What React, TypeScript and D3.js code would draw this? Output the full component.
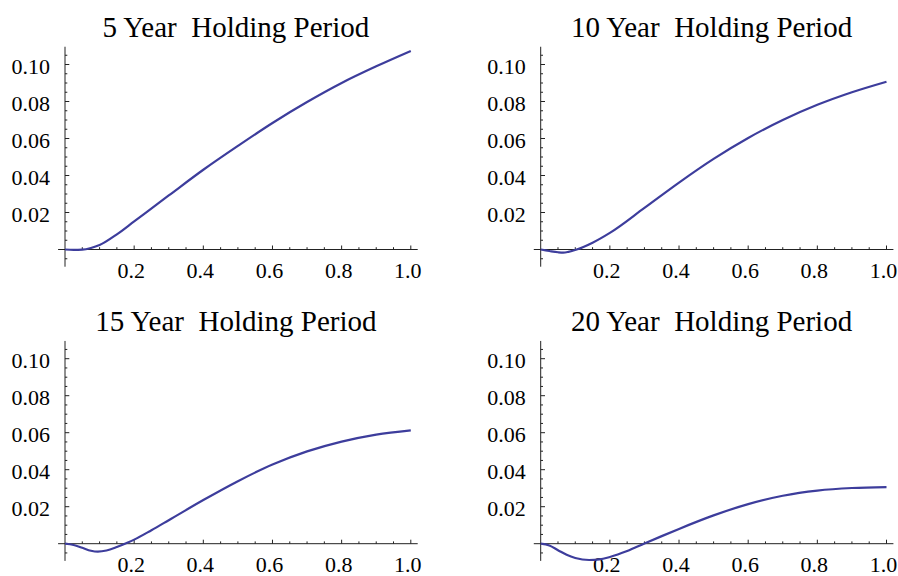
import * as d3 from "d3";

const titles = [
  "5 Year  Holding Period",
  "10 Year  Holding Period",
  "15 Year  Holding Period",
  "20 Year  Holding Period",
];

// [fraction, value]
const holding5: [number, number][] = [
  [0, 0], [0.025, -0.0002], [0.05, -0.0001], [0.075, 0.0008], [0.1, 0.0024],
  [0.15, 0.0082], [0.2, 0.0152], [0.3, 0.0292], [0.4, 0.0431], [0.5, 0.0560],
  [0.6, 0.0684], [0.7, 0.0797], [0.8, 0.0900], [0.9, 0.0990], [1.0, 0.1073],
];
const holding10: [number, number][] = [
  [0, 0], [0.025, -0.0008], [0.05, -0.0015], [0.065, -0.0017], [0.08, -0.0013],
  [0.104, 0], [0.15, 0.0037], [0.2, 0.0090], [0.3, 0.0225], [0.4, 0.0362],
  [0.5, 0.0490], [0.6, 0.0603], [0.7, 0.0700], [0.8, 0.0782], [0.9, 0.0850], [1.0, 0.0907],
];
const holding15: [number, number][] = [
  [0, 0], [0.025, -0.0007], [0.05, -0.0022], [0.075, -0.0038], [0.095, -0.0043],
  [0.12, -0.0037], [0.15, -0.0018], [0.18, 0.0005], [0.2, 0.0022], [0.25, 0.0073],
  [0.3, 0.0127], [0.4, 0.0236], [0.5, 0.0338], [0.6, 0.0428], [0.7, 0.0499],
  [0.8, 0.0552], [0.9, 0.0590], [1.0, 0.0613],
];
const holding20: [number, number][] = [
  [0, 0], [0.025, -0.0010], [0.05, -0.0035], [0.075, -0.0060], [0.1, -0.0077],
  [0.14, -0.0088], [0.17, -0.0085], [0.2, -0.0072], [0.25, -0.0040], [0.3, 0.0001],
  [0.35, 0.0041], [0.4, 0.0080], [0.5, 0.0153], [0.6, 0.0214], [0.7, 0.0259],
  [0.8, 0.0287], [0.9, 0.0301], [1.0, 0.0306],
];

const series = [holding5, holding10, holding15, holding20];

const xTickValues = [0.2, 0.4, 0.6, 0.8, 1.0];
const yTickValues = [0.02, 0.04, 0.06, 0.08, 0.1];

const WIDTH = 898;
const HEIGHT = 576;
const colLeft = [65, 540.7];
const rowZero = [249.5, 543.7];
const plotW = 345.8;
const yPerUnit = 1850;

const lineColor = "#3d3d9c";
const axisColor = "#222";
const font = "'Liberation Serif', 'Times New Roman', serif";

function Panel({ index }: { index: number }) {
  const left = colLeft[index % 2];
  const zero = rowZero[Math.floor(index / 2)];
  const x = d3.scaleLinear().domain([0, 1]).range([left, left + plotW]);
  const y = d3.scaleLinear().domain([0, 0.1]).range([zero, zero - 0.1 * yPerUnit]);

  const line = d3
    .line<[number, number]>()
    .x((d) => x(d[0]))
    .y((d) => y(d[1]))
    .curve(d3.curveMonotoneX);

  const xMinor = d3
    .range(0.05, 1.001, 0.05)
    .filter((v) => !xTickValues.some((t) => Math.abs(t - v) < 1e-6));
  const yMinor = d3
    .range(-0.005, 0.1091, 0.005)
    .filter((v) => Math.abs(v) > 1e-6 && !yTickValues.some((t) => Math.abs(t - v) < 1e-6));

  return (
    <g>
      <text
        x={(x(0) + x(1)) / 2 - 2}
        y={zero - 212.5}
        textAnchor="middle"
        fontFamily={font}
        fontSize={29}
        style={{ whiteSpace: "pre" }}
      >
        {titles[index]}
      </text>
      {/* axes */}
      <line x1={x(-0.02)} x2={x(1.02)} y1={y(0)} y2={y(0)} stroke={axisColor} strokeWidth={1} />
      <line x1={x(0)} x2={x(0)} y1={y(-0.0093)} y2={y(0.1096)} stroke={axisColor} strokeWidth={1} />
      {xTickValues.map((t) => (
        <g key={`xt${t}`}>
          <line x1={x(t)} x2={x(t)} y1={y(0)} y2={y(0) - 4} stroke={axisColor} />
          <text x={x(t) - 3} y={y(0) + 28} textAnchor="middle" fontFamily={font} fontSize={22}>
            {t.toFixed(1)}
          </text>
        </g>
      ))}
      {xMinor.map((t) => (
        <line key={`xm${t}`} x1={x(t)} x2={x(t)} y1={y(0)} y2={y(0) - 2.3} stroke={axisColor} />
      ))}
      {yTickValues.map((t) => (
        <g key={`yt${t}`}>
          <line x1={x(0)} x2={x(0) + 4.3} y1={y(t)} y2={y(t)} stroke={axisColor} />
          <text x={x(0) - 15} y={y(t) + 9.5} textAnchor="end" fontFamily={font} fontSize={22}>
            {t.toFixed(2)}
          </text>
        </g>
      ))}
      {yMinor.map((t) => (
        <line key={`ym${t}`} x1={x(0)} x2={x(0) + 2.3} y1={y(t)} y2={y(t)} stroke={axisColor} />
      ))}
      <path d={line(series[index]) ?? ""} fill="none" stroke={lineColor} strokeWidth={2.2} />
    </g>
  );
}

export default function App() {
  return (
    <svg
      width={WIDTH}
      height={HEIGHT}
      style={{ position: "absolute", left: 0, top: 0, background: "#fff" }}
    >
      {series.map((_, i) => (
        <Panel key={i} index={i} />
      ))}
    </svg>
  );
}
